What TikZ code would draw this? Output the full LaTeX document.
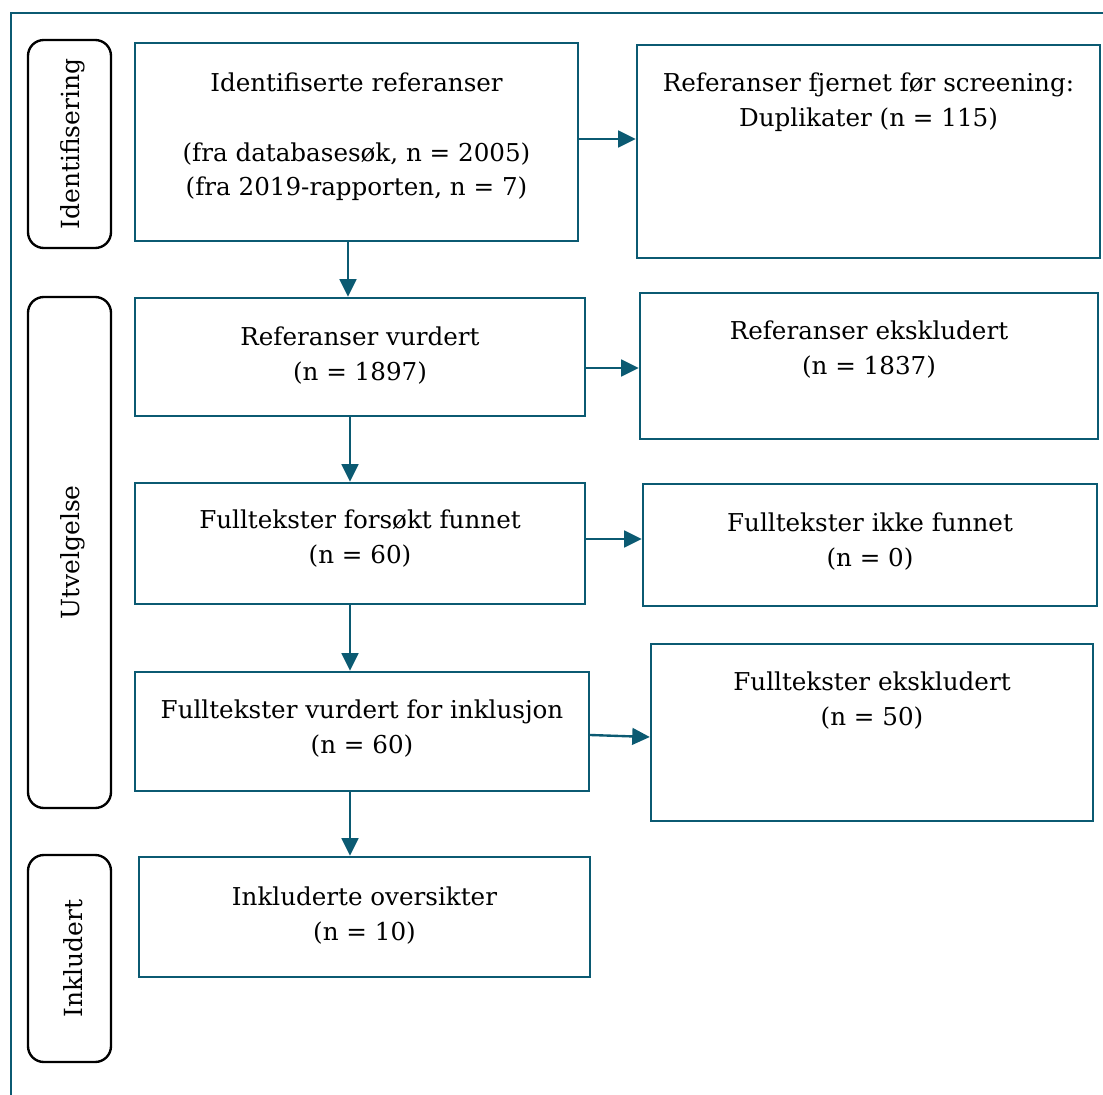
\documentclass[tikz,border=0pt]{standalone}
\usepackage{fontspec}
\setmainfont{DejaVu Serif}
\usetikzlibrary{fit}
\usetikzlibrary{arrows.meta}

\definecolor{petrol}{HTML}{0B5A72}

\begin{document}
\begin{tikzpicture}[x=0.02cm,y=-0.02cm]

  \tikzset{BOX/.style={draw=petrol, line width=1.35pt, inner sep=0pt}}
  \tikzset{PHASE/.style={draw=black, line width=1.35pt, rounded corners=9pt, inner sep=0pt}}
  \tikzset{TXT/.style={anchor=north, align=center, inner sep=0pt,
      font=\fontsize{14}{19.8}\selectfont}}
  \tikzset{ARR/.style={->, >={Triangle[length=10pt,width=9.5pt]}, draw=petrol,
      line width=1.35pt}}

  \useasboundingbox (0,0) rectangle (1103,1095);
  \draw[petrol, line width=1.35pt] (11,1100) -- (11,13) -- (1110,13);

  % phase labels
  \node[PHASE, fit={(28,40) (111,248)}] (p0) {};
  \node[PHASE, fit={(28,297) (111,808)}] (p1) {};
  \node[PHASE, fit={(28,855) (111,1062)}] (p2) {};
  \node[rotate=90, font=\fontsize{14.2}{19.8}\selectfont] at ([xshift=2pt]p0.center) {Identifisering};
  \node[rotate=90, font=\fontsize{14.2}{19.8}\selectfont] at ([xshift=2pt]p1.center) {Utvelgelse};
  \node[rotate=90, font=\fontsize{14.2}{19.8}\selectfont] at ([xshift=2pt]p2.center) {Inkludert};

  % main column
  \node[BOX, fit={(135,43) (578,241)}] (b0) {};
  \node[BOX, fit={(135,298) (585,416)}] (b1) {};
  \node[BOX, fit={(135,483) (585,604)}] (b2) {};
  \node[BOX, fit={(135,672) (589,791)}] (b3) {};
  \node[BOX, fit={(139,857) (590,977)}] (b4) {};

  % side column
  \node[BOX, fit={(637,45) (1100,258)}] (r0) {};
  \node[BOX, fit={(640,293) (1098,439)}] (r1) {};
  \node[BOX, fit={(643,484) (1097,606)}] (r2) {};
  \node[BOX, fit={(651,644) (1093,821)}] (r3) {};

  % texts
  \node[TXT] (tb0) at ([yshift=-17.5pt]b0.north) {Identifiserte referanser\\[19.8pt]
    (fra databasesøk, n = 2005)\\(fra 2019-rapporten, n = 7)};
  \node[TXT] (tb1) at ([yshift=-17pt]b1.north) {Referanser vurdert\\(n = 1897)};
  \node[TXT] (tb2) at ([yshift=-16pt]b2.north) {Fulltekster forsøkt funnet\\(n = 60)};
  \node[TXT] (tb3) at ([yshift=-16.5pt]b3.north) {Fulltekster vurdert for inklusjon\\(n = 60)};
  \node[TXT] (tb4) at ([yshift=-17.5pt]b4.north) {Inkluderte oversikter\\(n = 10)};
  \node[TXT] (tr0) at ([yshift=-16.5pt]r0.north) {Referanser fjernet før screening:\\Duplikater (n = 115)};
  \node[TXT] (tr1) at ([yshift=-16.5pt]r1.north) {Referanser ekskludert\\(n = 1837)};
  \node[TXT] (tr2) at ([yshift=-17pt]r2.north) {Fulltekster ikke funnet\\(n = 0)};
  \node[TXT] (tr3) at ([yshift=-16.5pt]r3.north) {Fulltekster ekskludert\\(n = 50)};

  % arrows
  \draw[ARR] (b0.south -| 348,0) -- (b1.north -| 348,0);
  \draw[ARR] (b1.south -| 350,0) -- (b2.north -| 350,0);
  \draw[ARR] (b2.south -| 350,0) -- (b3.north -| 350,0);
  \draw[ARR] (b3.south -| 350,0) -- (b4.north -| 350,0);
  \draw[ARR] (b0.east |- 0,139) -- (r0.west |- 0,139);
  \draw[ARR] (b1.east |- 0,368) -- (r1.west |- 0,368);
  \draw[ARR] (b2.east |- 0,539) -- (r2.west |- 0,539);
  \draw[ARR] (b3.east |- 0,735) -- (r3.west |- 0,737);
\end{tikzpicture}
\end{document}
